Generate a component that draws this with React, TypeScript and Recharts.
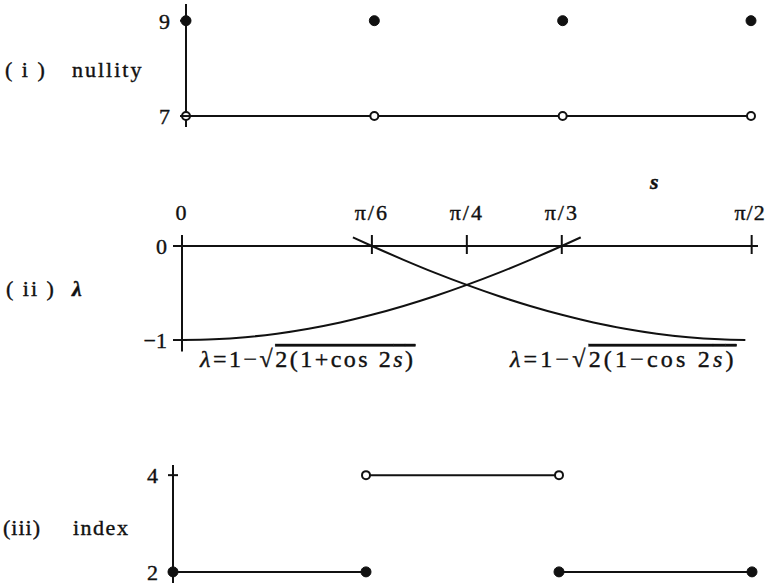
import { LineChart, Line, XAxis, YAxis, ReferenceLine } from 'recharts';

const FONT = '"Liberation Serif", "DejaVu Serif", serif';
const INK = '#111';

// (i) nullity
const nullityS = [0, 30, 60, 90];
const nullityUpper = [9, 9, 9, 9];
const nullityLower = [7, 7, 7, 7];
const nullityTicks = [7, 9];

// (ii) lambda, s in degrees
const lambdaS = [0, 5, 10, 15, 20, 25, 27, 30, 35, 40, 45, 50, 55, 60, 63, 65, 70, 75, 80, 85, 89];
const lambdaRise = [-1, -0.992, -0.97, -0.932, -0.879, -0.813, -0.782, -0.732, -0.638, -0.532, -0.414, -0.286, -0.147, 0, 0.092, null, null, null, null, null, null];
const lambdaFall = [null, null, null, null, null, null, 0.092, 0, -0.147, -0.286, -0.414, -0.532, -0.638, -0.732, -0.782, -0.813, -0.879, -0.932, -0.97, -0.992, -1];
const sTicks = [0, 30, 45, 60, 90];
const sTickLabels = ['0', 'π/6', 'π/4', 'π/3', 'π/2'];
const lambdaTicks = [-1, 0];
const lambdaTickLabels = ['−1', '0'];

// (iii) index
const indexS = [0, 30, 60, 90];
const indexLowLeft = [2, 2, null, null];
const indexHigh = [null, 4, 4, null];
const indexLowRight = [null, null, 2, 2];
const indexTicks = [2, 4];

const nullityData = nullityS.map((s, i) => ({ s, upper: nullityUpper[i], lower: nullityLower[i] }));
const lambdaData = lambdaS.map((s, i) => ({ s, rise: lambdaRise[i], fall: lambdaFall[i] }));
const indexData = indexS.map((s, i) => ({ s, lowL: indexLowLeft[i], high: indexHigh[i], lowR: indexLowRight[i] }));

const filledDot = { r: 5, fill: INK, stroke: INK, strokeWidth: 1 };
const openDot = { r: 4, fill: '#fff', stroke: INK, strokeWidth: 2 };

// tick label plus a short mark that crosses the axis
function makeYTick(gap: number, size: number, fmt?: (v: number) => string) {
  return function YTick(props: any) {
    const { x, y, payload } = props;
    const label = fmt ? fmt(payload.value) : String(payload.value);
    return (
      <g>
        <text x={x} y={y} dy="0.36em" textAnchor="end" fill={INK} stroke={INK} strokeWidth={0.4}
          fontSize={22} fontFamily={FONT}>{label}</text>
        <line x1={x + gap - size} x2={x + gap + 5} y1={y} y2={y} stroke={INK} strokeWidth={2} />
      </g>
    );
  };
}

function STick(props: any) {
  const { x, y, payload } = props;
  const label = sTickLabels[sTicks.indexOf(payload.value)];
  const last = payload.value === sTicks[sTicks.length - 1];
  return (
    <g>
      <text x={last ? x + 14 : x} y={y - 15} textAnchor={last ? 'end' : 'middle'} fill={INK} stroke={INK}
        strokeWidth={0.4} fontSize={22} fontFamily={FONT} letterSpacing={last ? 1 : 2}>
        {label}
      </text>
      {payload.value > 0 && <line x1={x} x2={x} y1={y} y2={y + 19} stroke={INK} strokeWidth={2} />}
    </g>
  );
}

const NullityTick = makeYTick(16, 6);
const LambdaTick = makeYTick(15, 9, (v) => lambdaTickLabels[lambdaTicks.indexOf(v)]);
const IndexTick = makeYTick(15, 5);

export default function App() {
  return (
    <div style={{ position: 'absolute', left: 0, top: 0, width: 767, height: 587, background: '#fff', fontFamily: FONT }}>
      <div style={{ position: 'absolute', left: 0, top: 0 }}>
        <LineChart width={767} height={140} data={nullityData} margin={{ top: 4, right: 16, bottom: 13, left: 146 }}>
          <XAxis type="number" dataKey="s" domain={[0, 90]} hide />
          <YAxis width={40} domain={[6.77, 9.35]} ticks={nullityTicks} tick={<NullityTick />}
            axisLine={{ stroke: INK, strokeWidth: 2 }} tickLine={false} tickSize={6} tickMargin={10} />
          <Line dataKey="lower" stroke={INK} strokeWidth={2} dot={openDot} isAnimationActive={false} />
          <Line dataKey="upper" stroke="none" dot={filledDot} isAnimationActive={false} />
        </LineChart>
      </div>

      <div style={{ position: 'absolute', left: 0, top: 140 }}>
        <LineChart width={767} height={240} data={lambdaData} margin={{ top: 55, right: 9, bottom: 28.5, left: 142 }}>
          <XAxis type="number" dataKey="s" orientation="top" domain={[0, 91]} ticks={sTicks} height={40}
            axisLine={false} tickLine={false} tickSize={0} tickMargin={0} tick={<STick />} interval={0} />
          <YAxis width={40} domain={[-1.122, 0.117]} ticks={lambdaTicks} tick={<LambdaTick />}
            axisLine={{ stroke: INK, strokeWidth: 2 }} tickLine={false} tickSize={9} tickMargin={6} />
          <ReferenceLine y={0} stroke={INK} strokeWidth={2} />
          <Line type="monotone" dataKey="rise" stroke={INK} strokeWidth={2} dot={false} isAnimationActive={false} />
          <Line type="monotone" dataKey="fall" stroke={INK} strokeWidth={2} dot={false} isAnimationActive={false} />
        </LineChart>
      </div>

      <div style={{ position: 'absolute', left: 0, top: 380 }}>
        <LineChart width={767} height={207} data={indexData} margin={{ top: 85, right: 15, bottom: 4, left: 133 }}>
          <XAxis type="number" dataKey="s" domain={[0, 90]} hide />
          <YAxis width={40} domain={[1.77, 4.21]} ticks={indexTicks} tick={<IndexTick />}
            axisLine={{ stroke: INK, strokeWidth: 2 }} tickLine={false} tickSize={5} tickMargin={10} />
          <Line dataKey="lowL" stroke={INK} strokeWidth={2} dot={filledDot} isAnimationActive={false} />
          <Line dataKey="high" stroke={INK} strokeWidth={2} dot={openDot} isAnimationActive={false} />
          <Line dataKey="lowR" stroke={INK} strokeWidth={2} dot={filledDot} isAnimationActive={false} />
        </LineChart>
      </div>

      <svg width={767} height={587} style={{ position: 'absolute', left: 0, top: 0, pointerEvents: 'none' }}>
        <g fill={INK} stroke={INK} strokeWidth={0.4} fontSize={22} fontFamily={FONT}>
          <text x={5} y={77} letterSpacing={2}>( i )</text>
          <text x={72} y={77} letterSpacing={2}>nullity</text>
          <text x={6} y={296} letterSpacing={2}>( ii )</text>
          <text x={72} y={296} fontStyle="italic" fontWeight="bold">λ</text>
          <text x={3} y={535} letterSpacing={1}>(iii)</text>
          <text x={73} y={535} letterSpacing={1.5}>index</text>
          <text x={650} y={189} fontStyle="italic" fontWeight="bold">s</text>
          <text x={200} y={367} fontSize={24} letterSpacing={2.5}>
            <tspan fontStyle="italic">λ</tspan>=1−√<tspan style={{ textDecoration: 'overline' }}>2(1+cos 2<tspan fontStyle="italic">s</tspan>)</tspan>
          </text>
          <text x={510} y={367} fontSize={24} letterSpacing={3.2}>
            <tspan fontStyle="italic">λ</tspan>=1−√<tspan style={{ textDecoration: 'overline' }}>2(1−cos 2<tspan fontStyle="italic">s</tspan>)</tspan>
          </text>
        </g>
      </svg>
    </div>
  );
}
